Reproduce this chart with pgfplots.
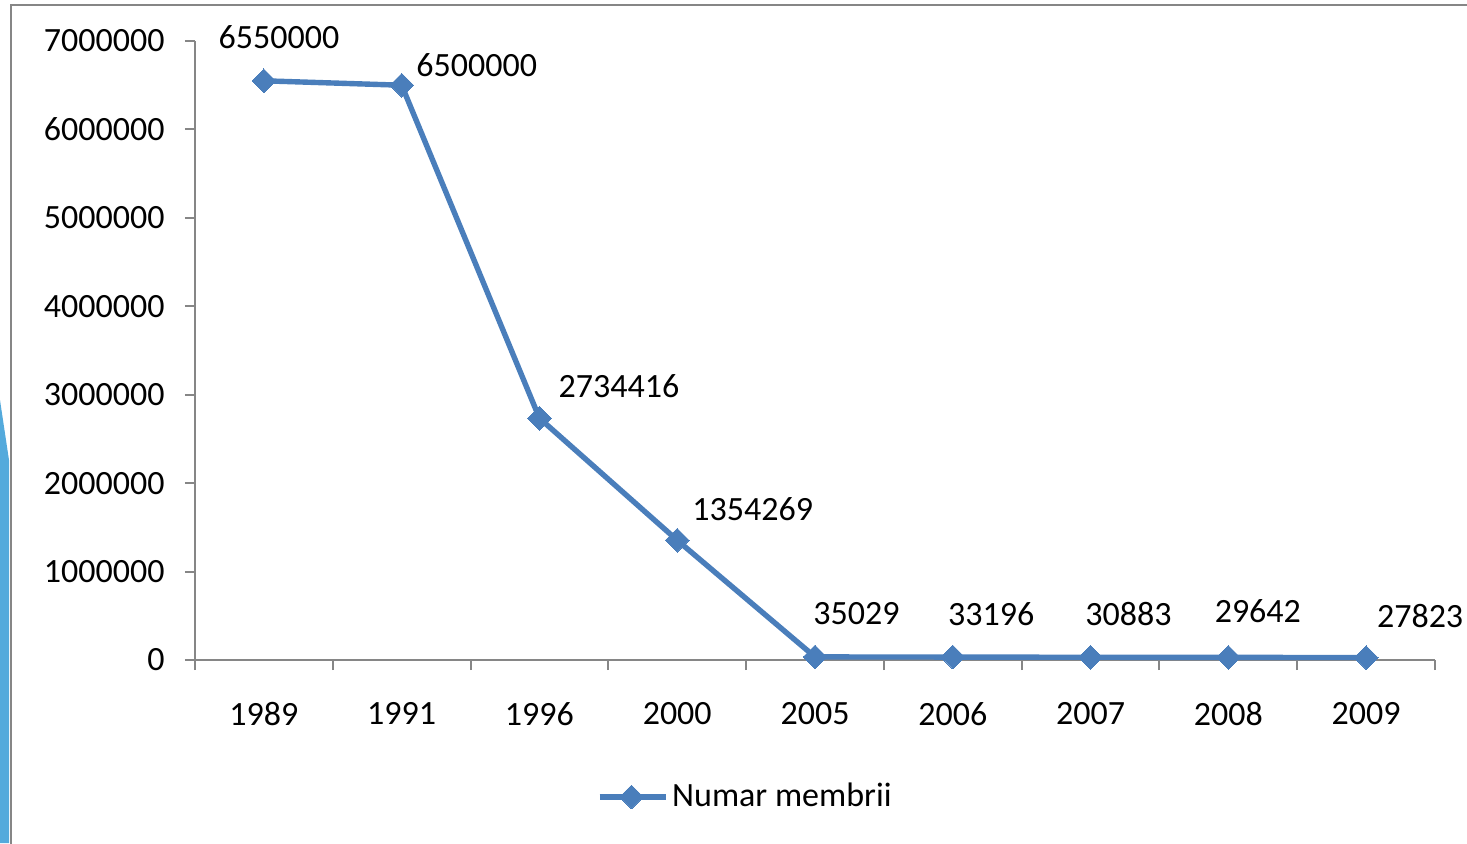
\documentclass[border=0pt]{standalone}
\usepackage{pgfplots}
\pgfplotsset{compat=1.18}
\usepackage{fontspec}
\setmainfont{Carlito}
\definecolor{lineblue}{RGB}{74,126,187}
\definecolor{axgray}{RGB}{134,134,134}
\definecolor{deco}{RGB}{84,170,220}
\begin{document}
\begin{tikzpicture}
\fontsize{17}{20}\selectfont
\path[use as bounding box] (0,0) rectangle (733.5pt,421.5pt);
% frame
\fill[deco] (0,0) -- (0,221.5pt) -- (4.5pt,191.5pt) -- (4.5pt,0) -- cycle;
\draw[axgray, line width=1pt] (5.25pt,-1pt) -- (5.25pt,419pt) -- (740pt,419pt);
\begin{axis}[
  at={(97.5pt,91.5pt)}, anchor=south west,
  scale only axis, width=620pt, height=309.5pt,
  xmin=-0.5, xmax=8.5, ymin=0, ymax=7000000,
  scaled y ticks=false,
  axis lines=left,
  axis line style={-, draw=axgray, line width=1pt},
  tick align=outside,
  xtick={0,...,8},
  xticklabels={1989,1991,1996,2000,2005,2006,2007,2008,2009},
  minor xtick={-0.5,0.5,...,8.5},
  xtick style={draw=none},
  minor x tick style={draw=axgray, line width=1pt},
  minor tick length=5pt,
  ytick={0,1000000,...,7000000},
  yticklabels={0,1000000,2000000,3000000,4000000,5000000,6000000,7000000},
  ytick style={draw=axgray, line width=1pt},
  major tick length=5pt,
  ticklabel style={font=\fontsize{17}{20}\selectfont},
  /pgf/number format/assume math mode=true,
  xticklabel style={anchor=north, inner sep=0pt, yshift=-16pt},
  yticklabel style={anchor=east, inner sep=0pt, xshift=-10pt},
  clip=false,
  legend style={at={(0.4445,-0.2213)}, anchor=center, draw=none, fill=none,
    font=\fontsize{17}{20}\selectfont, inner sep=0pt},
  legend cell align=left,
  legend image code/.code={
    \draw[#1, mark=none] (0pt,0pt) -- (33pt,0pt);
    \draw[#1, only marks] plot coordinates {(16pt,0pt)};
  },
]
\addplot[color=lineblue, line width=2.7pt, mark=square*, mark size=4.2pt,
  mark options={rotate=45, solid, fill=lineblue, draw=lineblue, line width=0pt}]
  coordinates {
  (0,6550000) (1,6500000) (2,2734416) (3,1354269) (4,35029)
  (5,33196) (6,30883) (7,29642) (8,27823)
  };
\addlegendentry{Numar membrii}
\begin{scope}[every node/.style={anchor=center, inner sep=0pt, font=\fontsize{17}{20}\selectfont}]
\node[xshift=7.5pt, yshift=22pt] at (axis cs:0,6550000) {6550000};
\node[xshift=37.5pt, yshift=10pt] at (axis cs:1,6500000) {6500000};
\node[xshift=39.75pt, yshift=16pt] at (axis cs:2,2734416) {2734416};
\node[xshift=37.75pt, yshift=15.5pt] at (axis cs:3,1354269) {1354269};
\node[xshift=20.75pt, yshift=21.5pt] at (axis cs:4,35029) {35029};
\node[xshift=19.25pt, yshift=21.5pt] at (axis cs:5,33196) {33196};
\node[xshift=19pt, yshift=21.5pt] at (axis cs:6,30883) {30883};
\node[xshift=14.75pt, yshift=23pt] at (axis cs:7,29642) {29642};
\node[xshift=27pt, yshift=21pt] at (axis cs:8,27823) {27823};
\end{scope}
\end{axis}
\end{tikzpicture}
\end{document}
